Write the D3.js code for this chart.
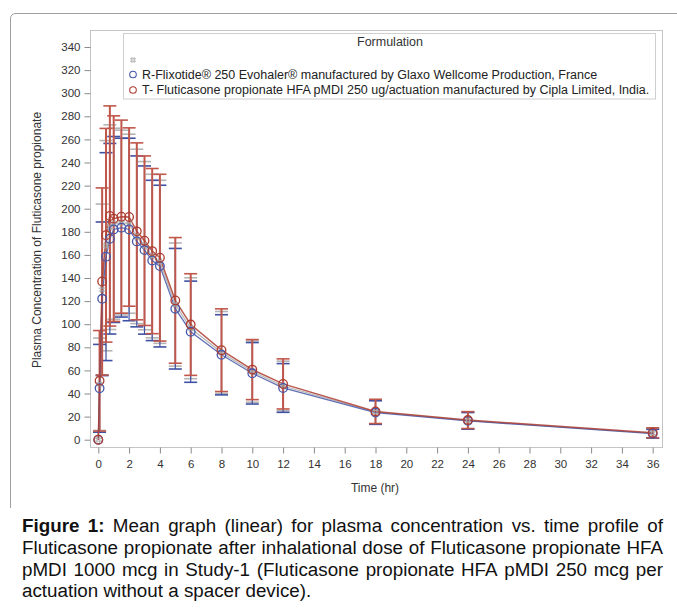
<!DOCTYPE html>
<html>
<head>
<meta charset="utf-8">
<script src="https://cdn.jsdelivr.net/npm/d3@7"></script>
<style>
  html, body { margin: 0; padding: 0; background: #fff; }
  svg { display: block; }
</style>
</head>
<body>
<svg id="chart" width="677" height="608"></svg>
<script>
// ---- data ----
const times = [0, 0.083, 0.25, 0.5, 0.75, 1, 1.5, 2, 2.5, 3, 3.5, 4, 5, 6, 8, 10, 12, 18, 24, 36];
const refMean  = [0, 44.5, 122, 158.5, 174, 182, 183.6, 182, 171.7, 164.2, 155.2, 150.3, 113.4, 93.5, 73.5, 57.5, 44.8, 23.5, 16.3, 5.2];
const refSD    = [0, 38, 66.5, 90, 82.5, 80.5, 77.4, 79, 74, 72.8, 69.4, 70, 52.2, 43.8, 34.7, 26.6, 21.1, 10.2, 7.2, 3.8];
const testMean = [0, 51, 137, 177, 193.7, 191.4, 193.1, 192.8, 180.4, 172.3, 163.3, 157.6, 120.6, 99.7, 77.5, 60.7, 48.3, 24.5, 17, 6];
const testSD   = [0, 43.5, 81, 92.5, 95.3, 89, 83.6, 77.2, 76.6, 73.4, 71.5, 72.2, 54.4, 44, 35.8, 26, 21.7, 10.5, 7.3, 4.3];
const allMean  = [0, 48, 130, 168, 184, 187, 188, 187, 176, 168, 159, 154, 117, 96.5, 75.5, 59, 46.5, 24, 16.6, 5.6];
const allSD    = [0, 40, 74, 91, 88.6, 82.7, 80, 77.5, 75.5, 72.8, 70.8, 70.6, 53.3, 43.7, 35.5, 26.5, 21.5, 10.3, 7.2, 4];
const xTicks = d3.range(0, 37, 2);
const yTicks = d3.range(0, 341, 20);
const legendTitle = "Formulation";
const legendLabels = ["",
  "R-Flixotide\u00AE 250 Evohaler\u00AE manufactured by Glaxo Wellcome Production, France",
  "T- Fluticasone propionate HFA pMDI 250 ug/actuation manufactured by Cipla Limited, India."];
const xTitle = "Time (hr)";
const yTitle = "Plasma Concentration of Fluticasone propionate";
const captionLines = [
  [{t:"Figure 1:", b:true}, {t:" Mean graph (linear) for plasma concentration vs. time profile of", b:false}],
  [{t:"Fluticasone propionate after inhalational dose of Fluticasone propionate HFA", b:false}],
  [{t:"pMDI 1000 mcg in Study-1 (Fluticasone propionate HFA pMDI 250 mcg per", b:false}],
  [{t:"actuation without a spacer device).", b:false}]
];

// ---- layout ----
const svg = d3.select("#chart");
const FONT = "'Liberation Sans', Arial, sans-serif";
const frame = {l: 90, t: 30, r: 662, b: 447};
const x = d3.scaleLinear().domain([0, 36]).range([98.3, 652.7]);
const y = d3.scaleLinear().domain([0, 340]).range([439.7, 47]);

// outer figure border
svg.append("path")
  .attr("d", "M10.5,508 L10.5,19 Q10.5,13.5 16,13.5 L677,13.5")
  .attr("fill", "none").attr("stroke", "#a0a0a0").attr("stroke-width", 1);

// plot frame
svg.append("rect")
  .attr("x", frame.l + 0.5).attr("y", frame.t + 0.5)
  .attr("width", frame.r - frame.l).attr("height", frame.b - frame.t)
  .attr("fill", "none").attr("stroke", "#c4c4c4").attr("stroke-width", 1);

// axes
const xAxis = svg.append("g").attr("transform", `translate(0,${frame.b + 0.5})`)
  .call(d3.axisBottom(x).tickValues(xTicks).tickSize(6).tickPadding(6).tickFormat(d3.format("d")));
const yAxis = svg.append("g").attr("transform", `translate(${frame.l + 0.5},0)`)
  .call(d3.axisLeft(y).tickValues(yTicks).tickSize(6).tickPadding(4).tickFormat(d3.format("d")));
[xAxis, yAxis].forEach(g => {
  g.select(".domain").remove();
  g.selectAll(".tick line").attr("stroke", "#8a8a8a");
  g.selectAll(".tick text").attr("fill", "#333").attr("font-family", FONT).attr("font-size", 11.5);
});

svg.append("text").attr("x", 375).attr("y", 492).attr("text-anchor", "middle")
  .attr("font-family", FONT).attr("font-size", 12).attr("fill", "#333").text(xTitle);
svg.append("text").attr("transform", "translate(41,240) rotate(-90)").attr("text-anchor", "middle")
  .attr("font-family", FONT).attr("font-size", 12).attr("fill", "#333").text(yTitle);

// ---- series ----
const series = [
  {mean: allMean,  sd: allSD,  color: "#a8a8a8", bar: "#b4b4b4", marker: "hash", lineW: 1.2, barW: 1.2},
  {mean: refMean,  sd: refSD,  color: "#4657a8", bar: "#3f51a3", marker: "circle", lineW: 1.3, barW: 1.2},
  {mean: testMean, sd: testSD, color: "#ad3d31", bar: "#c0574b", marker: "circle", lineW: 1.5, barW: 2}
];

const plot = svg.append("g");
const capW = 6.5;
// error bars first
series.forEach(s => {
  const g = plot.append("g");
  times.forEach((t, i) => {
    if (s.sd[i] <= 0) return;
    const cx = x(t), y1 = y(s.mean[i] - s.sd[i]), y2 = y(s.mean[i] + s.sd[i]);
    g.append("line").attr("x1", cx).attr("x2", cx).attr("y1", y1).attr("y2", y2)
      .attr("stroke", s.bar).attr("stroke-width", s.barW);
    [y1, y2].forEach(yy => g.append("line").attr("x1", cx - capW).attr("x2", cx + capW)
      .attr("y1", yy).attr("y2", yy).attr("stroke", s.bar).attr("stroke-width", 1.6));
  });
});
// lines
const lineGen = d3.line().x(d => x(d[0])).y(d => y(d[1]));
series.forEach(s => {
  plot.append("path").datum(times.map((t, i) => [t, s.mean[i]]))
    .attr("d", lineGen).attr("fill", "none").attr("stroke", s.color)
    .attr("stroke-width", s.lineW).attr("stroke-opacity", 0.85);
});
// markers
function hashPath(cx, cy, r) {
  return `M${cx - r},${cy - r/2.5}H${cx + r}M${cx - r},${cy + r/2.5}H${cx + r}` +
         `M${cx - r/2.5},${cy - r}V${cy + r}M${cx + r/2.5},${cy - r}V${cy + r}`;
}
series.forEach(s => {
  times.forEach((t, i) => {
    if (s.marker === "circle") {
      plot.append("circle").attr("cx", x(t)).attr("cy", y(s.mean[i])).attr("r", 4.3)
        .attr("fill", "none").attr("stroke", s.color).attr("stroke-width", 1.3);
    } else {
      plot.append("path").attr("d", hashPath(x(t), y(s.mean[i]), 3.5))
        .attr("fill", "none").attr("stroke", s.color).attr("stroke-width", 0.9);
    }
  });
});

// ---- legend ----
const lg = svg.append("g");
lg.append("rect").attr("x", 123.5).attr("y", 33.5).attr("width", 532).attr("height", 65.5)
  .attr("fill", "#fff").attr("stroke", "#cfcfcf");
lg.append("text").attr("x", 390).attr("y", 46).attr("text-anchor", "middle")
  .attr("font-family", FONT).attr("font-size", 12.5).attr("fill", "#333").text(legendTitle);
const rowY = [60, 74.5, 90];
series.forEach((s, i) => {
  if (s.marker === "circle") {
    lg.append("circle").attr("cx", 133).attr("cy", rowY[i]).attr("r", 3.3)
      .attr("fill", "none").attr("stroke", s.color).attr("stroke-width", 1.1);
  } else {
    lg.append("path").attr("d", hashPath(133, rowY[i], 3)).attr("fill", "none")
      .attr("stroke", s.color).attr("stroke-width", 0.8);
  }
  lg.append("text").attr("x", 142).attr("y", rowY[i] + 4).attr("font-family", FONT)
    .attr("font-size", 12.5).attr("fill", "#222").text(legendLabels[i]);
});

// ---- caption (justified) ----
const capX0 = 22, capX1 = 663, capFont = 18.8;
const baselines = [532, 554, 575.5, 597];
captionLines.forEach((segs, li) => {
  const words = [];
  segs.forEach(sg => sg.t.trim().split(/\s+/).forEach(w => words.push({w, b: sg.b})));
  const txt = svg.append("text").attr("y", baselines[li]).attr("font-family", FONT)
    .attr("font-size", capFont).attr("fill", "#111");
  const spans = words.map(o => txt.append("tspan").attr("font-weight", o.b ? "bold" : "normal").text(o.w));
  const widths = spans.map(sp => sp.node().getComputedTextLength());
  const justify = li < captionLines.length - 1;
  const spaceW = capFont * 0.278;
  const total = d3.sum(widths);
  const gap = justify ? (capX1 - capX0 - total) / (words.length - 1) : spaceW;
  let cx = capX0;
  spans.forEach((sp, k) => { sp.attr("x", cx); cx += widths[k] + gap; });
});
</script>
</body>
</html>
